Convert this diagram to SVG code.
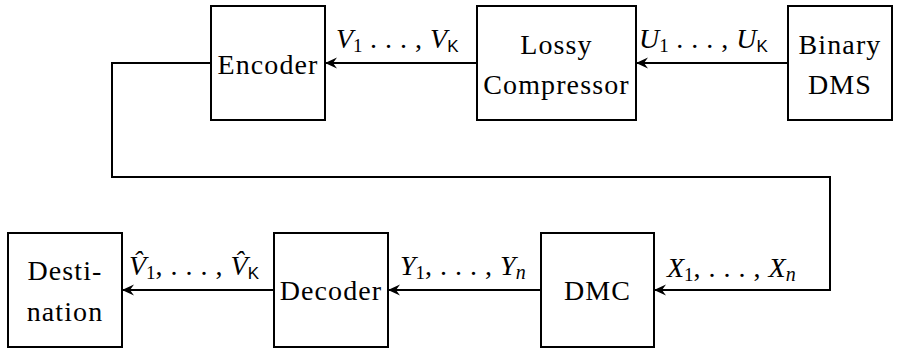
<svg xmlns="http://www.w3.org/2000/svg" width="902" height="349" viewBox="0 0 902 349">
<style>
.box{fill:#fff;stroke:#000;stroke-width:2}
.t{font-family:"Liberation Serif","Times New Roman",serif;font-size:28px;letter-spacing:1.1px;fill:#000;text-anchor:middle}
.m{font-family:"Liberation Serif","Times New Roman",serif;font-size:28px;fill:#000;font-style:italic}
.s{font-style:normal;font-size:19px}
.d{font-style:normal;letter-spacing:0.5px}
.k{font-family:"Liberation Sans",Arial,sans-serif;font-style:normal;font-size:17px}
.n{font-size:20px}
.c{fill:none;stroke:#000;stroke-width:2}
</style>
<defs>
<marker id="ah" markerWidth="14" markerHeight="12" refX="12" refY="6" orient="auto" markerUnits="userSpaceOnUse">
<path d="M13,6 L1,0.5 L5,6 L1,11.5 Z" fill="#000"/>
</marker>
</defs>
<g id="connectors">
<path class="c" d="M788,63 H637" marker-end="url(#ah)"/>
<path class="c" d="M477,63 H326" marker-end="url(#ah)"/>
<path class="c" d="M211,63 H112 V177 H830 V290 H655" marker-end="url(#ah)"/>
<path class="c" d="M541,290 H389" marker-end="url(#ah)"/>
<path class="c" d="M274,290 H123" marker-end="url(#ah)"/>
</g>
<g id="binary-dms">
<rect class="box" x="788" y="6" width="104" height="114"/>
<text class="t" x="840" y="54">Binary</text>
<text class="t" x="840" y="94">DMS</text>
</g>
<g id="lossy-compressor">
<rect class="box" x="477" y="6" width="159" height="114"/>
<text class="t" x="556.5" y="54">Lossy</text>
<text class="t" x="556.5" y="94">Compressor</text>
</g>
<g id="encoder">
<rect class="box" x="211" y="6" width="114" height="114"/>
<text class="t" x="268" y="74">Encoder</text>
</g>
<g id="dmc">
<rect class="box" x="541" y="233" width="113" height="114"/>
<text class="t" x="597.5" y="300">DMC</text>
</g>
<g id="decoder">
<rect class="box" x="274" y="233" width="114" height="114"/>
<text class="t" x="331" y="300">Decoder</text>
</g>
<g id="destination">
<rect class="box" x="8" y="233" width="114" height="114"/>
<text class="t" x="65" y="280">Desti-</text>
<text class="t" x="65" y="321">nation</text>
</g>
<g id="labels">
<text class="m" x="336" y="48">V<tspan class="s" dy="4">1</tspan><tspan class="d" dy="-4"> . . . , </tspan>V<tspan class="k" dy="4">K</tspan></text>
<text class="m" x="639" y="48">U<tspan class="s" dy="4">1</tspan><tspan class="d" dy="-4"> . . . , </tspan>U<tspan class="k" dy="4">K</tspan></text>
<text class="m" x="129" y="275">V̂<tspan class="s" dy="4">1</tspan><tspan class="d" dy="-4">, . . . , </tspan>V̂<tspan class="k" dy="4">K</tspan></text>
<text class="m" x="400" y="275">Y<tspan class="s" dy="4">1</tspan><tspan class="d" dy="-4">, . . . , </tspan>Y<tspan class="n" dy="4">n</tspan></text>
<text class="m" x="667" y="277">X<tspan class="s" dy="4">1</tspan><tspan class="d" dy="-4">, . . . , </tspan>X<tspan class="n" dy="4">n</tspan></text>
</g>
</svg>
